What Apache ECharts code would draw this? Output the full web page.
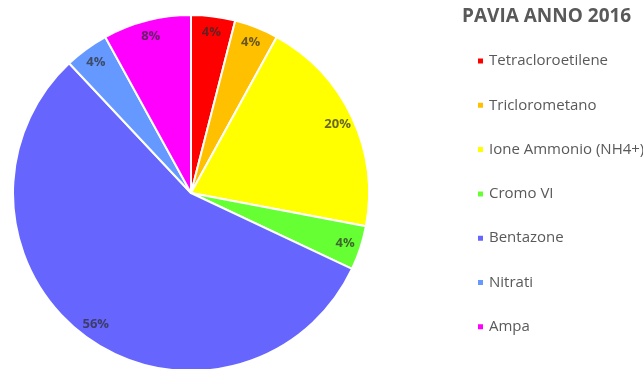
<!DOCTYPE html>
<html>
<head>
<meta charset="utf-8">
<script src="https://cdn.jsdelivr.net/npm/echarts@6/dist/echarts.min.js"></script>
<style>
  html, body { margin: 0; padding: 0; background: #fff; }
  #chart { width: 643px; height: 369px; }
</style>
</head>
<body>
<div id="chart"></div>
<script>
// Pollutant shares, Pavia 2016 (percent)
const categories = ['Tetracloroetilene', 'Triclorometano', 'Ione Ammonio (NH4+)', 'Cromo VI', 'Bentazone', 'Nitrati', 'Ampa'];
const shares = [4, 4, 20, 4, 56, 4, 8];
const sliceColors = ['#FF0000', '#FFC000', '#FFFF00', '#66FF33', '#6666FF', '#6699FF', '#FF00FF'];
const chartTitle = 'PAVIA ANNO 2016';

const pieData = categories.map((name, i) => ({ name, value: shares[i] }));
const center = [191, 193];
const outer = 178;

const chart = echarts.init(document.getElementById('chart'), null, { renderer: 'canvas' });
chart.setOption({
  animation: false,
  color: sliceColors,
  title: {
    text: chartTitle,
    left: 457,
    top: 2,
    textStyle: { fontFamily: 'Open Sans', fontWeight: 'bold', fontSize: 19, color: '#595959' }
  },
  legend: {
    orient: 'vertical',
    left: 471,
    top: 48,
    itemWidth: 7,
    itemHeight: 7,
    itemGap: 28.3,
    icon: 'rect',
    data: categories,
    textStyle: { fontFamily: 'Open Sans', fontSize: 15, color: '#595959', lineHeight: 16 }
  },
  series: [
    {
      type: 'pie',
      center: center,
      radius: [0, outer],
      startAngle: 90,
      clockwise: true,
      silent: true,
      itemStyle: { borderColor: '#ffffff', borderWidth: 2 },
      label: { show: false },
      labelLine: { show: false },
      data: pieData
    },
    {
      // outer ring carrying the percentage labels near the rim
      type: 'pie',
      center: center,
      radius: [140, outer],
      startAngle: 90,
      clockwise: true,
      silent: true,
      itemStyle: { color: 'rgba(0,0,0,0)', borderWidth: 0 },
      label: {
        show: true,
        position: 'inside',
        formatter: p => Math.round(p.percent) + '%',
        fontFamily: 'Open Sans',
        fontWeight: 'bold',
        fontSize: 13,
        color: 'rgba(45,45,45,0.72)'
      },
      labelLine: { show: false },
      data: pieData
    }
  ]
});
</script>
</body>
</html>
